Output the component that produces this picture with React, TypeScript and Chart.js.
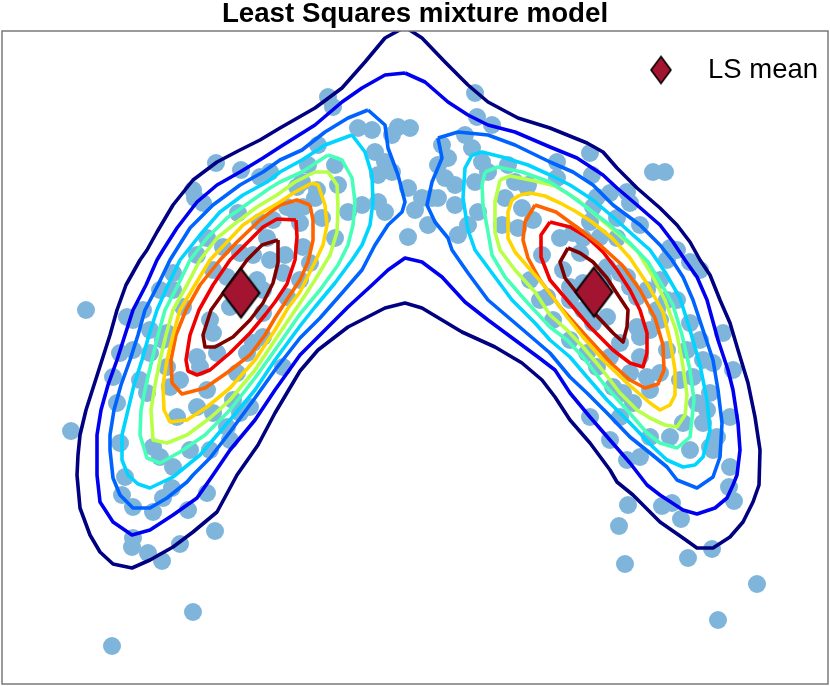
import React, { useEffect, useRef } from "react";
import { Chart, registerables } from "chart.js";

Chart.register(...registerables);

const TITLE = "Least Squares mixture model";
const LEGEND_LABEL = "LS mean";

// Plot window (no axes are shown in the reference)
const X_MIN = 2;
const X_MAX = 828;
const Y_MIN = 31;
const Y_MAX = 684;

// Least-squares component means
const LS_MEAN_X = [241, 594];
const LS_MEAN_Y = [293, 292];

// Contour level colours (outer -> inner, jet colormap)
const LEVEL_COLORS = [
  "#000080", "#0000f1", "#0063ff", "#00d4ff", "#47ffb8",
  "#b8ff47", "#ffd400", "#ff6300", "#f10000", "#800000",
];

// Level 0 and 1 enclose both components
const LEVEL0 = [[405,27],[422,38],[445,62],[468,85],[488,102],[518,118],[550,128],[587,143],[603,152],[617,168],[637,188],[660,208],[677,225],[690,242],[700,260],[710,275],[720,300],[730,323],[738,350],[748,383],[755,417],[760,450],[759,485],[753,502],[743,522],[730,537],[713,548],[697,548],[683,538],[660,522],[633,495],[617,482],[610,470],[590,443],[570,420],[555,397],[542,380],[522,363],[495,347],[462,332],[442,320],[422,308],[405,303],[385,308],[348,327],[318,350],[300,371],[275,413],[258,445],[237,475],[217,512],[193,532],[173,547],[150,560],[132,568],[113,564],[100,552],[90,535],[80,508],[77,475],[78,455],[80,435],[86,410],[94,385],[102,360],[110,335],[117,310],[126,285],[140,260],[147,250],[157,232],[173,205],[193,180],[217,162],[240,150],[260,140],[280,128],[315,108],[342,88],[365,62],[385,38],[405,27]];
const LEVEL1 = [[405,73],[425,82],[448,102],[468,115],[488,125],[515,132],[550,147],[577,158],[603,175],[617,188],[637,205],[660,225],[673,242],[685,260],[697,277],[707,300],[718,340],[728,370],[733,390],[738,423],[740,450],[737,475],[733,485],[727,498],[715,508],[697,514],[683,510],[660,495],[647,485],[630,463],[610,440],[590,417],[570,393],[555,370],[538,357],[515,340],[488,320],[465,302],[442,277],[422,262],[405,258],[388,270],[372,285],[348,307],[322,333],[300,355],[275,390],[255,420],[230,450],[213,475],[197,498],[173,515],[150,530],[132,535],[113,522],[100,502],[97,475],[97,435],[101,410],[108,385],[117,360],[125,335],[133,310],[146,285],[157,260],[163,250],[177,228],[197,202],[217,185],[240,172],[263,158],[280,147],[315,125],[342,102],[362,88],[385,75],[405,73]];

// Levels 2..9 : left component
const LEVEL2_L = [[368,110],[385,125],[388,148],[398,175],[405,202],[402,212],[388,225],[375,245],[362,270],[342,293],[320,318],[300,338],[275,370],[255,398],[230,432],[210,458],[193,475],[187,482],[167,498],[150,508],[133,508],[120,495],[113,478],[110,450],[110,435],[114,410],[121,385],[130,360],[138,335],[145,310],[158,285],[170,260],[190,228],[213,205],[240,185],[263,172],[280,160],[302,150],[325,132],[348,118],[368,110]];
const LEVEL3_L = [[352,135],[325,145],[302,160],[280,172],[267,182],[243,195],[220,212],[200,235],[180,260],[168,285],[157,310],[149,335],[142,360],[134,385],[128,410],[122,435],[122,460],[128,475],[138,484],[150,488],[173,477],[200,455],[230,420],[255,390],[275,360],[300,326],[315,307],[335,283],[352,260],[362,245],[370,225],[373,202],[372,175],[365,152],[352,135]];
const LEVEL4_L = [[328,155],[342,160],[352,178],[355,202],[353,225],[348,245],[338,265],[320,290],[300,314],[275,350],[255,378],[230,410],[205,435],[180,452],[160,463],[147,458],[140,435],[141,410],[146,385],[152,360],[158,335],[165,310],[178,285],[190,260],[207,238],[227,218],[250,202],[270,188],[280,182],[302,172],[328,155]];
const LEVEL5_L = [[315,172],[328,172],[337,185],[338,208],[337,232],[330,255],[315,280],[300,303],[275,340],[255,370],[230,400],[210,418],[187,435],[167,443],[153,440],[151,410],[155,385],[160,360],[166,335],[173,310],[187,285],[200,260],[217,238],[237,222],[257,207],[277,195],[295,182],[315,172]];
const LEVEL6_L = [[312,183],[318,185],[325,205],[327,225],[323,245],[315,262],[300,292],[288,308],[275,330],[255,360],[230,388],[207,407],[187,420],[170,422],[164,410],[163,385],[167,360],[173,335],[180,310],[195,285],[210,260],[227,242],[243,225],[263,212],[280,202],[295,192],[312,183]];
const LEVEL7_L = [[310,205],[297,200],[280,205],[260,220],[237,242],[220,260],[200,285],[186,310],[176,335],[171,360],[172,383],[182,394],[205,388],[228,372],[250,355],[265,335],[275,318],[290,295],[300,280],[308,262],[313,240],[313,220],[310,205]];
const LEVEL8_L = [[296,220],[277,219],[263,227],[243,247],[230,260],[213,285],[199,310],[190,335],[186,360],[188,371],[197,375],[210,370],[230,353],[250,333],[265,315],[275,302],[287,284],[295,260],[297,237],[296,220]];
const LEVEL9_L = [[278,240],[262,245],[247,260],[229,285],[211,310],[203,335],[205,347],[215,347],[233,337],[250,320],[263,303],[273,283],[278,263],[278,240]];

// Levels 2..9 : right component
const LEVEL2_R = [[438,138],[458,132],[488,135],[515,145],[550,162],[573,172],[593,185],[613,205],[640,225],[660,245],[672,260],[683,277],[693,300],[703,330],[713,360],[718,390],[722,423],[720,457],[713,477],[697,488],[677,480],[667,467],[650,453],[630,437],[607,413],[587,393],[570,377],[550,353],[515,323],[488,300],[468,273],[452,250],[448,238],[435,222],[427,205],[432,182],[442,158],[438,138]];
const LEVEL3_R = [[472,155],[482,152],[502,157],[528,165],[550,175],[570,185],[593,200],[613,217],[633,235],[650,250],[665,272],[680,298],[690,330],[700,365],[707,400],[710,430],[703,457],[695,465],[683,467],[667,460],[653,447],[630,423],[607,400],[587,377],[570,357],[550,340],[535,323],[512,300],[492,273],[475,250],[468,230],[463,198],[465,168],[472,155]];
const LEVEL4_R = [[485,172],[498,167],[522,172],[550,182],[570,195],[590,210],[610,225],[630,243],[648,262],[662,285],[673,305],[682,335],[690,370],[694,400],[690,437],[677,448],[660,443],[647,433],[627,410],[603,383],[583,357],[567,340],[550,327],[525,300],[505,277],[492,255],[488,232],[483,205],[482,185],[485,172]];
const LEVEL5_R = [[500,180],[510,176],[535,181],[555,186],[578,200],[598,217],[617,233],[638,252],[652,275],[665,300],[676,330],[682,360],[687,395],[685,415],[677,427],[665,425],[650,418],[637,410],[620,393],[600,367],[583,347],[567,330],[550,315],[535,292],[515,270],[500,250],[495,232],[495,202],[500,180]];
const LEVEL6_R = [[520,195],[530,193],[545,196],[560,203],[575,211],[592,222],[612,238],[630,258],[648,285],[663,312],[670,340],[675,370],[675,395],[670,405],[660,410],[650,403],[627,383],[603,360],[583,337],[567,317],[555,300],[542,283],[528,267],[515,252],[508,238],[508,212],[512,200],[520,195]];
const LEVEL7_R = [[535,205],[525,222],[523,240],[528,258],[540,280],[560,307],[587,337],[613,365],[630,380],[645,388],[658,384],[664,370],[663,345],[655,318],[640,290],[622,265],[600,245],[578,228],[556,212],[535,205]];
const LEVEL8_R = [[550,222],[541,235],[541,257],[550,280],[567,300],[590,327],[613,350],[630,363],[643,367],[647,353],[647,333],[640,310],[630,290],[617,270],[603,252],[587,237],[570,227],[550,222]];
const LEVEL9_R = [[568,248],[560,262],[565,278],[580,297],[598,317],[613,333],[623,342],[627,327],[628,310],[618,295],[607,278],[593,262],[580,253],[568,248]];

// Observed samples
const SAMPLES = [
  [86,310],[71,431],[112,646],[193,612],[757,584],[718,620],[625,564],[619,526],[653,172],[665,172],
  [328,97],[333,107],[475,93],[477,117],[398,127],[410,128],[358,128],[372,130],[392,135],[375,152],
  [385,162],[392,172],[378,175],[408,188],[422,198],[415,210],[432,198],[442,145],[448,158],[438,165],
  [445,178],[455,185],[438,198],[455,205],[465,135],[472,148],[482,162],[488,172],[475,182],[478,212],
  [468,225],[428,225],[408,237],[458,235],[362,205],[378,202],[385,212],[348,212],[338,185],[335,165],
  [318,145],[308,165],[302,182],[315,198],[322,218],[295,212],[285,255],[508,165],[515,182],[528,185],
  [522,208],[505,198],[502,225],[518,228],[542,255],[335,238],[492,125],
  [216,163],[241,170],[260,177],[270,172],[195,198],[238,213],[207,238],[223,247],[260,222],[267,238],
  [253,255],[197,255],
  [270,260],[283,273],[257,280],[227,277],[230,307],[210,320],[213,333],[263,313],[240,253],[273,220],
  [300,223],[303,207],[317,190],[297,187],[287,207],[193,190],[203,203],[173,273],[160,290],[143,310],
  [133,320],[150,330],[173,290],[183,307],[237,373],[217,353],[197,357],[180,380],[163,340],[150,353],
  [170,387],[140,380],[147,393],[303,247],[310,263],[300,280],[287,297],[263,337],[247,353],[283,367],
  [127,317],[167,333],[120,353],[133,350],[113,377],[167,367],[200,367],[207,390],[177,417],[197,407],
  [213,413],[233,400],[240,413],[250,407],[227,427],[117,403],[120,443],[153,447],[160,457],[173,467],
  [190,450],[210,450],[230,440],[213,270],[263,290],[253,343],
  [125,477],[122,495],[133,507],[153,512],[163,498],[172,488],[207,493],[188,510],[133,538],[132,547],
  [148,553],[162,561],[180,544],[215,531],
  [590,153],[592,175],[627,192],[597,197],[640,225],[670,248],[557,162],[557,178],[617,218],[590,222],
  [583,238],[617,238],[560,238],
  [573,233],[593,207],[610,193],[630,203],[600,237],[580,253],[563,270],[547,297],[570,287],[583,310],
  [607,317],[603,280],[620,273],[630,287],[637,297],[647,290],[660,280],[667,260],[677,250],[637,327],
  [640,337],[660,320],[667,300],[677,300],[690,323],[700,340],[687,350],[667,350],[620,343],[630,373],
  [647,377],[660,373],[680,380],[693,377],[703,360],[613,387],[623,393],[597,367],[587,353],[570,340],
  [553,320],[540,300],[530,280],[533,220],[527,187],
  [700,270],[690,262],[723,333],[733,370],[713,363],[710,393],[707,410],[730,417],[717,437],[713,450],
  [730,467],[627,460],[610,440],[590,417],[620,417],[633,403],[650,390],[640,357],[650,330],[657,310],
  [627,277],[607,267],[583,283],[570,300],[593,323],[610,357],[650,437],[670,437],[683,423],[640,457],
  [697,403],[703,423],[690,450],[710,447],
  [628,505],[662,506],[672,503],[681,519],[688,558],[712,549],[729,487],[734,501],
];

const CONTOURS: { level: number; path: number[][] }[] = [
  { level: 0, path: LEVEL0 },
  { level: 1, path: LEVEL1 },
  { level: 2, path: LEVEL2_L }, { level: 2, path: LEVEL2_R },
  { level: 3, path: LEVEL3_L }, { level: 3, path: LEVEL3_R },
  { level: 4, path: LEVEL4_L }, { level: 4, path: LEVEL4_R },
  { level: 5, path: LEVEL5_L }, { level: 5, path: LEVEL5_R },
  { level: 6, path: LEVEL6_L }, { level: 6, path: LEVEL6_R },
  { level: 7, path: LEVEL7_L }, { level: 7, path: LEVEL7_R },
  { level: 8, path: LEVEL8_L }, { level: 8, path: LEVEL8_R },
  { level: 9, path: LEVEL9_L }, { level: 9, path: LEVEL9_R },
];

const SAMPLE_COLOR = "#7fb5db";
const MEAN_COLOR = "#a2142f";
const FONT_FAMILY = '"Liberation Sans", Arial, Helvetica, sans-serif';

function makeDiamond(w: number, h: number, lw: number): HTMLCanvasElement {
  const c = document.createElement("canvas");
  c.width = Math.ceil(w + lw * 2 + 2);
  c.height = Math.ceil(h + lw * 2 + 2);
  const ctx = c.getContext("2d")!;
  const cx = c.width / 2;
  const cy = c.height / 2;
  ctx.beginPath();
  ctx.moveTo(cx, cy - h / 2);
  ctx.lineTo(cx + w / 2, cy);
  ctx.lineTo(cx, cy + h / 2);
  ctx.lineTo(cx - w / 2, cy);
  ctx.closePath();
  ctx.fillStyle = MEAN_COLOR;
  ctx.fill();
  ctx.lineWidth = lw;
  ctx.strokeStyle = "#000";
  ctx.lineJoin = "miter";
  ctx.stroke();
  return c;
}

export default function App() {
  const ref = useRef<HTMLCanvasElement>(null);

  useEffect(() => {
    if (!ref.current) return;
    const bigDiamond = makeDiamond(37, 49, 2);
    const smallDiamond = makeDiamond(20, 27, 1.6);

    const framePlugin = {
      id: "frame",
      afterDatasetsDraw(chart: any) {
        const { ctx, chartArea } = chart;
        ctx.save();
        ctx.strokeStyle = "#7a7a7a";
        ctx.lineWidth = 1.5;
        ctx.strokeRect(chartArea.left, chartArea.top, chartArea.right - chartArea.left, chartArea.bottom - chartArea.top);
        ctx.restore();
      },
    };

    const legendPlugin = {
      id: "insideLegend",
      afterDraw(chart: any) {
        const { ctx, chartArea } = chart;
        ctx.save();
        const dx = chartArea.right - 167;
        const dy = chartArea.top + 39;
        ctx.drawImage(smallDiamond, dx - smallDiamond.width / 2, dy - smallDiamond.height / 2);
        ctx.fillStyle = "#000";
        ctx.font = "27.5px " + FONT_FAMILY;
        ctx.textBaseline = "alphabetic";
        ctx.textAlign = "left";
        ctx.fillText(LEGEND_LABEL, chartArea.right - 120, chartArea.top + 47);
        ctx.restore();
      },
    };

    const datasets: any[] = [];
    datasets.push({
      label: LEGEND_LABEL,
      data: LS_MEAN_X.map((x, i) => ({ x, y: LS_MEAN_Y[i] })),
      pointStyle: bigDiamond,
      pointRadius: 20,
      showLine: false,
      order: 0,
    });
    CONTOURS.forEach((c, i) => {
      const pts = c.path.map(([x, y]) => ({ x, y }));
      const first = c.path[0];
      const last = c.path[c.path.length - 1];
      if (first[0] !== last[0] || first[1] !== last[1]) pts.push({ x: first[0], y: first[1] });
      datasets.push({
        label: "level " + c.level + " #" + i,
        data: pts,
        showLine: true,
        borderColor: LEVEL_COLORS[c.level],
        backgroundColor: LEVEL_COLORS[c.level],
        borderWidth: 3.6,
        borderJoinStyle: "round",
        pointRadius: 0,
        tension: 0,
        fill: false,
        clip: 0,
        order: 1,
      });
    });
    datasets.push({
      label: "samples",
      data: SAMPLES.map(([x, y]) => ({ x, y })),
      pointRadius: 9,
      pointBorderWidth: 0,
      backgroundColor: SAMPLE_COLOR,
      borderColor: SAMPLE_COLOR,
      showLine: false,
      order: 2,
    });

    Chart.defaults.font.family = FONT_FAMILY;

    const chart = new Chart(ref.current, {
      type: "scatter",
      data: { datasets },
      options: {
        animation: false,
        responsive: false,
        maintainAspectRatio: false,
        events: [],
        layout: { autoPadding: false, padding: { left: 2, right: 2, top: 0, bottom: 2 } },
        plugins: {
          legend: { display: false },
          tooltip: { enabled: false },
          title: {
            display: true,
            text: TITLE,
            color: "#000",
            font: { size: 27.7, weight: "bold", family: FONT_FAMILY, lineHeight: 1 },
            padding: { top: 1, bottom: 2.3 },
          },
        },
        scales: {
          x: { type: "linear", min: X_MIN, max: X_MAX, display: false },
          y: { type: "linear", min: Y_MIN, max: Y_MAX, reverse: true, display: false },
        },
      },
      plugins: [framePlugin, legendPlugin],
    } as any);

    return () => chart.destroy();
  }, []);

  return (
    <div style={{ position: "absolute", left: 0, top: 0, width: 830, height: 686, background: "#fff" }}>
      <canvas ref={ref} width={830} height={686} />
    </div>
  );
}
